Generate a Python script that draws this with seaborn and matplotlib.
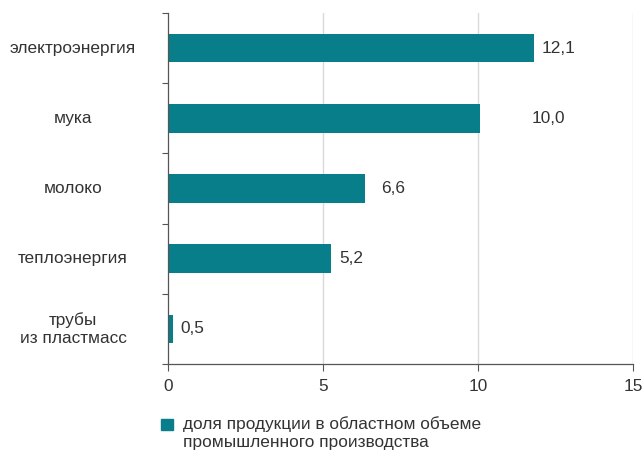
import matplotlib
matplotlib.use("Agg")
import matplotlib.pyplot as plt
import matplotlib.patches as mpatches
import seaborn as sns
import pandas as pd

# Data
categories = ["электроэнергия", "мука", "молоко", "теплоэнергия", "трубы\nиз пластмасс"]
bar_values = [11.8, 10.05, 6.35, 5.25, 0.17]
value_labels = ["12,1", "10,0", "6,6", "5,2", "0,5"]
x_ticks = [0, 5, 10, 15]
legend_lines = ["доля продукции в областном объеме", "промышленного производства"]

# label placement (gap after bar end, in x units) as in the reference
label_gap = [0.26, 1.68, 0.52, 0.26, 0.23]

teal = "#087e8b"
text_color = "#333333"
axis_color = "#555555"
fs = 12.4

sns.set_theme(style="white")
plt.rcParams["font.family"] = ["Liberation Sans", "DejaVu Sans"]

df = pd.DataFrame({"category": categories, "value": bar_values})

fig = plt.figure(figsize=(6.43, 4.5), dpi=100)
ax = fig.add_axes([168 / 643, 1 - 364 / 450, 465 / 643, 351 / 450])

sns.barplot(data=df, y="category", x="value", orient="h", color=teal,
            width=0.41, saturation=1, linewidth=0, ax=ax)

ax.set_xlim(0, 15)
ax.set_ylim(4.5, -0.5)
ax.set_xlabel("")
ax.set_ylabel("")

# vertical grid
for xv in x_ticks[1:]:
    ax.axvline(xv, color="#d9d9d9", lw=1, zorder=0)

ax.set_xticks(x_ticks)
ax.set_xticklabels([str(v) for v in x_ticks], fontsize=fs, color=text_color)
ax.tick_params(axis="x", direction="out", length=5, width=0.8, color=axis_color,
               pad=6, bottom=True)

# category boundary ticks on the y axis, labels drawn manually
ax.set_yticks([i - 0.5 for i in range(len(categories) + 1)])
ax.set_yticklabels([])
ax.tick_params(axis="y", direction="out", length=4, width=0.8, color=axis_color, left=True)

for s in ["top", "right"]:
    ax.spines[s].set_visible(False)
for s in ["left", "bottom"]:
    ax.spines[s].set_color(axis_color)
    ax.spines[s].set_linewidth(0.9)

trans = matplotlib.transforms.blended_transform_factory(fig.transFigure, ax.transData)
for i, name in enumerate(categories):
    ax.text(73 / 643, i, name, transform=trans, ha="center", va="center",
            fontsize=fs, color=text_color, linespacing=1.3)

for i, (v, lab) in enumerate(zip(bar_values, value_labels)):
    ax.text(v + label_gap[i], i, lab, ha="left", va="center",
            fontsize=fs, color=text_color)

# legend: square marker + two lines of text
fig.patches.append(mpatches.Rectangle((161 / 643, 1 - 430 / 450), 12 / 643, 11 / 450,
                                      transform=fig.transFigure, color=teal))
for j, line in enumerate(legend_lines):
    fig.text(183 / 643, 1 - (428.5 + 19 * j) / 450, line, ha="left", va="baseline",
             fontsize=fs, color=text_color)

fig.savefig("out.png", dpi=100)
